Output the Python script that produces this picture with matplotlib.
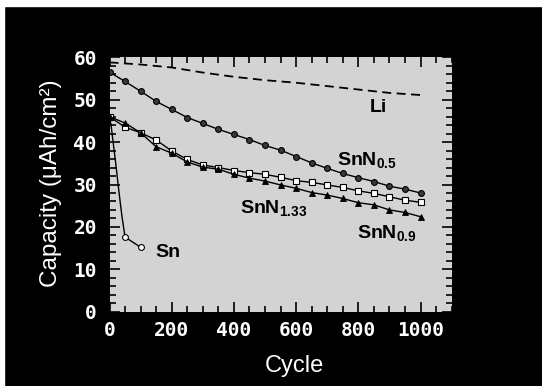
import numpy as np
import matplotlib
matplotlib.use("Agg")
import matplotlib.pyplot as plt
from matplotlib.patches import Rectangle
from matplotlib.ticker import MultipleLocator

# capacity vs cycle
cyc = [0, 50, 100, 150, 200, 250, 300, 350, 400, 450, 500,
       550, 600, 650, 700, 750, 800, 850, 900, 950, 1000]
snn05 = [56.5, 54.3, 52.0, 49.6, 47.7, 45.8, 44.4, 43.0, 41.8, 40.6, 39.2,
         38.1, 36.6, 35.1, 33.8, 32.6, 31.6, 30.7, 29.6, 28.9, 28.0]
snn133 = [46.0, 43.5, 42.2, 40.5, 37.9, 35.9, 34.6, 34.0, 33.3, 32.8, 32.4,
          31.7, 30.9, 30.5, 29.9, 29.3, 28.5, 27.9, 27.1, 26.3, 25.8]
snn09 = [46.0, 44.5, 42.2, 38.9, 37.4, 35.3, 34.1, 33.6, 32.4, 31.5, 30.8,
         29.9, 29.1, 28.1, 27.5, 26.7, 25.7, 25.2, 24.0, 23.4, 22.4]
li_cyc = [0, 100, 200, 300, 400, 500, 600, 700, 800, 900, 1000]
li = [58.8, 58.3, 57.6, 56.4, 55.4, 54.6, 54.0, 53.2, 52.4, 51.6, 51.1]
sn_cyc = [0, 5, 10, 20, 30, 40, 50, 100]
sn = [46.0, 44.0, 41.0, 35.0, 28.5, 22.5, 17.6, 15.2]

labels = ["Li", "SnN$_\\mathregular{0.5}$", "SnN$_\\mathregular{1.33}$",
          "SnN$_\\mathregular{0.9}$", "Sn"]
label_xy = [(836, 47.2), (732, 34.4), (420, 23.0), (794, 17.1), (146, 12.8)]

W, H = 542, 386
fig = plt.figure(figsize=(W / 100, H / 100), dpi=100, facecolor="black")
# white scan margins
fig.patches.append(Rectangle((0, 1 - 6 / H), 1, 6 / H, transform=fig.transFigure,
                             color="white", zorder=-1))
fig.patches.append(Rectangle((0, 0), 3.5 / W, 1, transform=fig.transFigure,
                             color="white", zorder=-1))

ax = fig.add_axes([109.5 / W, 1 - 311.7 / H, 342.2 / W, 254.4 / H])
ax.set_facecolor("#d3d3d3")

ax.plot(li_cyc, li, color="black", lw=1.3, ls=(0, (5, 3)))
ax.plot(cyc, snn05, color="black", lw=1, marker="o", ms=4.2,
        mfc="#3a3a3a", mec="black", mew=0.8)
ax.plot(cyc, snn133, color="black", lw=1, marker="s", ms=4,
        mfc="white", mec="black", mew=0.8)
ax.plot(cyc, snn09, color="black", lw=1, marker="^", ms=4.5,
        mfc="black", mec="black", mew=0.6)
ax.plot(sn_cyc, sn, color="black", lw=1, marker="o", ms=4.2,
        mfc="white", mec="black", mew=0.8, markevery=[6, 7])

for s, (x, y) in zip(labels, label_xy):
    ax.text(x, y, s, fontsize=14, fontweight="bold", family="Liberation Sans",
            color="black", ha="left", va="baseline")

ax.set_xlim(0, 1100)
ax.set_ylim(0, 60)
ax.set_xticks(range(0, 1001, 200))
ax.xaxis.set_minor_locator(MultipleLocator(50))
ax.yaxis.set_major_locator(MultipleLocator(10))
ax.yaxis.set_minor_locator(MultipleLocator(2))
ax.tick_params(which="both", direction="in", top=True, right=True,
               color="black", width=1.2, labelcolor="white")
ax.tick_params(which="major", length=7)
ax.tick_params(which="minor", length=4.5)
ax.tick_params(axis="y", pad=9)
ax.tick_params(axis="x", pad=7)
for lab in ax.get_xticklabels() + ax.get_yticklabels():
    lab.set_family("DejaVu Sans Mono")
    lab.set_fontweight("bold")
    lab.set_fontsize(14)
for sp in ax.spines.values():
    sp.set_visible(False)

ax.set_xlabel("Cycle", color="white", fontsize=17, family="Liberation Sans")
ax.xaxis.set_label_coords(0.539, -0.17)
ax.set_ylabel("Capacity (μAh/cm²)", color="white", fontsize=17.5,
              family="Liberation Sans")
ax.yaxis.set_label_coords(-0.14, 0.506)

fig.savefig("out.png", dpi=100, facecolor="black")
